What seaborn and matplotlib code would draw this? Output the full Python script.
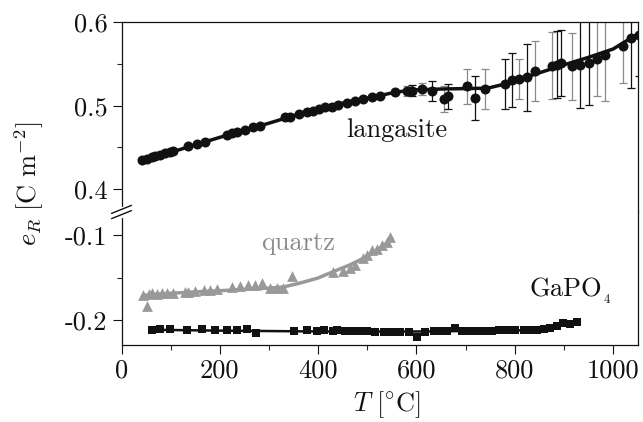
import matplotlib
matplotlib.use("Agg")
import matplotlib.pyplot as plt
from matplotlib.lines import Line2D
import numpy as np
import pandas as pd
import seaborn as sns

# langasite, low temperature points (no error bars)
lgs_x = [41, 51, 62, 68, 78, 88, 99, 105, 136, 153, 170, 214, 224, 234, 251, 268, 282,
         333, 343, 360, 377, 390, 401, 414, 428, 441, 458, 475, 492, 509, 526, 557]
lgs_y = [0.435, 0.436, 0.438, 0.440, 0.441, 0.443, 0.445, 0.446, 0.452, 0.454, 0.457,
         0.465, 0.467, 0.468, 0.471, 0.474, 0.476, 0.486, 0.487, 0.490, 0.493, 0.494,
         0.496, 0.498, 0.499, 0.501, 0.503, 0.505, 0.508, 0.510, 0.512, 0.516]

# langasite, high temperature points with grey error bars
lgs_a_x = [580, 611, 655, 703, 740, 808, 842, 876, 917, 967, 984, 1020]
lgs_a_y = [0.518, 0.520, 0.508, 0.523, 0.520, 0.532, 0.541, 0.548, 0.547, 0.556, 0.561, 0.572]
lgs_a_err = [0.006, 0.007, 0.015, 0.021, 0.024, 0.024, 0.036, 0.040, 0.040, 0.045, 0.055, 0.045]

# langasite, high temperature points with black error bars
lgs_b_x = [591, 631, 665, 720, 781, 794, 825, 886, 893, 933, 950, 1037, 1052]
lgs_b_y = [0.518, 0.518, 0.511, 0.509, 0.526, 0.531, 0.534, 0.549, 0.551, 0.549, 0.551, 0.581, 0.585]
lgs_b_err = [0.007, 0.012, 0.015, 0.026, 0.030, 0.032, 0.040, 0.040, 0.040, 0.052, 0.050, 0.060, 0.050]

# langasite fit
lgs_fit_x = [40, 100, 200, 300, 400, 500, 560, 600, 650, 700, 745, 780, 800, 850, 900, 950, 1000, 1050]
lgs_fit_y = [0.434, 0.444, 0.462, 0.479, 0.497, 0.509, 0.5165, 0.519, 0.520, 0.5205, 0.521,
             0.526, 0.530, 0.5394, 0.549, 0.558, 0.568, 0.586]

# quartz
qz_x = [44, 51, 55, 61, 72, 82, 92, 105, 129, 136, 150, 167, 180, 194, 224, 241, 258, 272,
        285, 302, 316, 329, 346, 431, 450, 465, 475, 492, 500, 509, 520, 530, 540, 547]
qz_y = [-0.1706, -0.1835, -0.1694, -0.168, -0.1694, -0.168, -0.168, -0.168, -0.167, -0.1667,
        -0.1659, -0.1647, -0.1647, -0.1635, -0.1612, -0.1596, -0.1588, -0.1588, -0.1565,
        -0.1624, -0.1624, -0.1624, -0.148, -0.144, -0.142, -0.139, -0.135, -0.127, -0.124,
        -0.118, -0.116, -0.112, -0.108, -0.102]
qz_fit_x = [44, 100, 200, 300, 330, 360, 400, 431, 465, 500, 530, 550]
qz_fit_y = [-0.171, -0.1685, -0.1655, -0.1625, -0.161, -0.157, -0.1505, -0.143, -0.135,
            -0.125, -0.114, -0.104]

# GaPO4
ga_x = [61, 78, 99, 133, 163, 190, 214, 234, 255, 274, 350, 377, 397, 411, 431, 438, 455,
        469, 486, 500, 516, 533, 550, 567, 584, 601, 618, 635, 648, 662, 679, 692, 706, 723,
        737, 753, 767, 784, 801, 818, 832, 845, 859, 872, 886, 899, 913, 927]
ga_y = [-0.2118, -0.2106, -0.2110, -0.2115, -0.2110, -0.2115, -0.2118, -0.2118, -0.2110,
        -0.2150, -0.2130, -0.2118, -0.2125, -0.2118, -0.2125, -0.2120, -0.2125, -0.2130,
        -0.2130, -0.2135, -0.2145, -0.2145, -0.2145, -0.2140, -0.2145, -0.2196, -0.2140,
        -0.2130, -0.2130, -0.2125, -0.2090, -0.2125, -0.2125, -0.2125, -0.2125, -0.2125,
        -0.2120, -0.2120, -0.2120, -0.2118, -0.2115, -0.2115, -0.2110, -0.2095, -0.2070,
        -0.2040, -0.2045, -0.2020]
ga_fit_x = [61, 200, 400, 600, 800, 850, 880, 905, 927]
ga_fit_y = [-0.2115, -0.2125, -0.2135, -0.2135, -0.2125, -0.2112, -0.2085, -0.2055, -0.2030]

x_ticks = [0, 200, 400, 600, 800, 1000]
top_ticks = [0.4, 0.5, 0.6]
bot_ticks = [-0.2, -0.1]

sns.set_style("ticks")
plt.rcParams["font.family"] = "serif"
plt.rcParams["font.serif"] = ["cmr10", "DejaVu Serif"]
plt.rcParams["mathtext.fontset"] = "cm"
plt.rcParams["axes.unicode_minus"] = False
plt.rcParams["axes.formatter.use_mathtext"] = True

BLACK = "#111111"
GREY = "#999999"
FS = 19

fig = plt.figure(figsize=(6.43, 4.22), dpi=100)
L, W = 0.189, 0.8028
ax_top = fig.add_axes([L, 0.4976, W, 0.4495])
ax_bot = fig.add_axes([L, 0.1825, W, 0.3151])

# --- top panel: langasite ---
ax_top.errorbar(lgs_a_x, lgs_a_y, yerr=lgs_a_err, fmt="none", ecolor="#8a8a8a",
                elinewidth=0.9, capsize=3, capthick=0.9, zorder=1)
ax_top.errorbar(lgs_b_x, lgs_b_y, yerr=lgs_b_err, fmt="none", ecolor=BLACK,
                elinewidth=0.9, capsize=3, capthick=0.9, zorder=1)
sns.lineplot(x=lgs_fit_x, y=lgs_fit_y, ax=ax_top, color=BLACK, lw=2.5, sort=False,
             estimator=None, zorder=2)
all_lx = lgs_x + lgs_a_x + lgs_b_x
all_ly = lgs_y + lgs_a_y + lgs_b_y
sns.scatterplot(x=all_lx, y=all_ly, ax=ax_top, color=BLACK, marker="o", s=52,
                edgecolor=BLACK, linewidth=0, zorder=3)
ax_top.text(560, 0.471, "langasite", fontsize=FS, ha="center", va="center", color=BLACK)

# --- bottom panel: quartz and GaPO4 ---
sns.lineplot(x=qz_fit_x, y=qz_fit_y, ax=ax_bot, color=GREY, lw=2.5, sort=False,
             estimator=None, zorder=2)
sns.scatterplot(x=qz_x, y=qz_y, ax=ax_bot, color=GREY, marker="^", s=60,
                edgecolor=GREY, linewidth=0, zorder=3)
sns.lineplot(x=ga_fit_x, y=ga_fit_y, ax=ax_bot, color=BLACK, lw=1.8, sort=False,
             estimator=None, zorder=2)
sns.scatterplot(x=ga_x, y=ga_y, ax=ax_bot, color=BLACK, marker="s", s=34,
                edgecolor=BLACK, linewidth=0, zorder=3)
ax_bot.text(360, -0.109, "quartz", fontsize=FS, ha="center", va="center", color="#8c8c8c")
ax_bot.text(828, -0.166, r"GaPO$_{_4}$", fontsize=FS, ha="left", va="center", color=BLACK)

# axes limits / ticks
for ax in (ax_top, ax_bot):
    ax.set_xlim(0, 1050)
    ax.set_xlabel("")
    ax.set_ylabel("")
    for s in ax.spines.values():
        s.set_linewidth(0.9)
        s.set_color(BLACK)
    ax.tick_params(which="major", direction="out", length=6.5, width=0.8,
                   labelsize=FS, colors=BLACK)
    ax.tick_params(which="minor", direction="out", length=3.6, width=0.8)

ax_top.set_ylim(0.3724, 0.6)
ax_top.set_yticks(top_ticks, labels=["%.1f" % v for v in top_ticks])
ax_top.set_yticks([0.45, 0.55], minor=True)
ax_top.set_xticks([])
ax_top.tick_params(axis="x", which="both", bottom=False, labelbottom=False)
ax_top.spines["bottom"].set_visible(False)

ax_bot.set_ylim(-0.2294, -0.0729)
ax_bot.set_yticks(bot_ticks, labels=["%.1f" % v for v in bot_ticks])
ax_bot.set_yticks([-0.15], minor=True)
ax_bot.set_xticks(x_ticks, labels=[str(v) for v in x_ticks])
ax_bot.set_xticks([100, 300, 500, 700, 900], minor=True)
ax_bot.spines["top"].set_visible(False)

# axis break on the left spine
ybrk = 1 - 212 / 422
fig.add_artist(Line2D([L, L], [ybrk - 0.009, ybrk + 0.009], color="white", lw=2.5,
                      transform=fig.transFigure, zorder=10))
for dy in (0.0062, -0.0062):
    fig.add_artist(Line2D([L - 0.0155, L + 0.0155], [ybrk + dy - 0.0095, ybrk + dy + 0.0095],
                          color=BLACK, lw=1.0, transform=fig.transFigure, zorder=11))

fig.text(0.045, 0.565, r"$e_R\ [\mathrm{C\ m}^{\mathrm{-}2}]$", fontsize=FS, rotation=90,
         ha="center", va="center", color=BLACK)
fig.text(0.602, 0.040, r"$T\ [^{\circ}\mathrm{C}]$", fontsize=FS, ha="center",
         va="center", color=BLACK)

fig.savefig("out.png", dpi=100)
